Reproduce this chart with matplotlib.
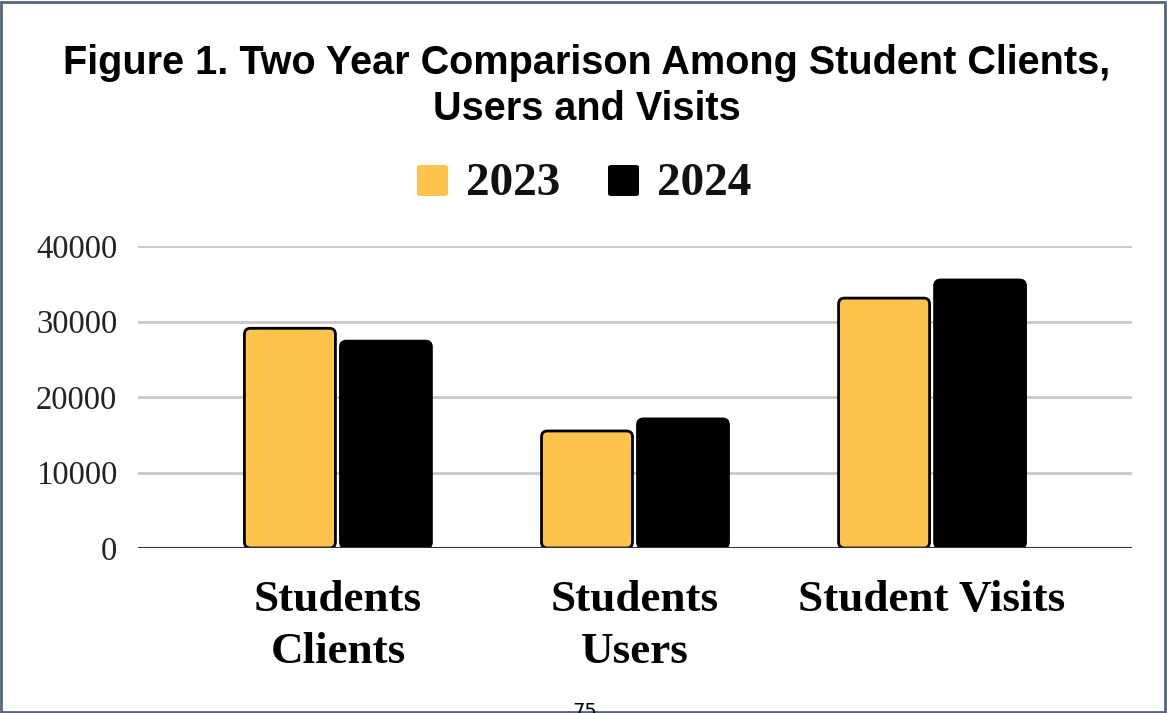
import numpy as np
import matplotlib.pyplot as plt
from matplotlib.patches import FancyBboxPatch, Rectangle

categories = ["Students\nClients", "Students\nUsers", "Student Visits"]
years = ["2023", "2024"]
vals_2023 = [29100, 15500, 33100]
vals_2024 = [27400, 17100, 35500]
yticks = [0, 10000, 20000, 30000, 40000]

yellow = "#fdc34b"
W, H, DPI = 1167, 713, 100

fig = plt.figure(figsize=(W / DPI, H / DPI), dpi=DPI)
ax = fig.add_axes([138 / W, 1 - 548 / H, (1132 - 138) / W, (548 - 246) / H])

x = np.arange(len(categories))
ax.set_xlim(-0.673, 2.673)
ax.set_ylim(0, 40000)

# rounded bars: convert a few pixels of rounding into data units
xpp = (ax.get_xlim()[1] - ax.get_xlim()[0]) / (1132 - 138)
ypp = 40000 / (548 - 246)
r = 6 * xpp
bw = 91 * xpp
gap = 5 * xpp
for vals, col, off in [(vals_2023, yellow, -1), (vals_2024, "black", 1)]:
    for xi, v in zip(x, vals):
        left = xi - bw - gap / 2 if off < 0 else xi + gap / 2
        p = FancyBboxPatch((left, 0), bw, v,
                           boxstyle=f"round,pad=0,rounding_size={r}",
                           mutation_aspect=ypp / xpp,
                           facecolor=col, edgecolor="black", linewidth=2,
                           zorder=3)
        ax.add_patch(p)

for t in yticks[1:]:
    ax.axhline(t, color="#c9c9c9", linewidth=2, zorder=1)
ax.axhline(0, color="#333333", linewidth=2.2, zorder=4)

for s in ax.spines.values():
    s.set_visible(False)
ax.set_yticks(yticks)
ax.set_yticklabels([str(t) for t in yticks], fontfamily="Liberation Serif",
                   fontsize=23.5, color="#222222")
ax.tick_params(axis="y", length=0, pad=15)
ax.set_xticks(x)
ax.set_xticklabels(categories, fontfamily="Liberation Serif", fontweight="bold",
                   fontsize=32.5, linespacing=1.4, va="top")
ax.tick_params(axis="x", length=0, pad=23)

fig.text(0.503, 1 - 86 / H, "Figure 1. Two Year Comparison Among Student Clients,\nUsers and Visits",
         ha="center", va="center", fontfamily="Liberation Sans", fontweight="bold",
         fontsize=28.5, linespacing=1.25)

# legend drawn by hand
for xs, col, lab in [(417, yellow, years[0]), (608, "black", years[1])]:
    fig.patches.append(FancyBboxPatch((xs / W, 1 - 196 / H), 31 / W, 31 / H,
                                      boxstyle="round,pad=0,rounding_size=0.003",
                                      transform=fig.transFigure, facecolor=col,
                                      edgecolor="none"))
    fig.text((xs + 49) / W, 1 - 184 / H, lab, ha="left", va="center",
             fontfamily="Liberation Serif", fontweight="bold", fontsize=34,
             color="#111111")

fig.text(585 / W, 1 - 702 / H, "75", ha="center", va="top",
         fontfamily="DejaVu Sans", fontsize=14)

fig.patches.append(Rectangle((1 / W, 1 / H), 1 - 3 / W, 1 - 3 / H,
                             transform=fig.transFigure, fill=False,
                             edgecolor="#56647e", linewidth=2))

fig.savefig("out.png", dpi=DPI)
